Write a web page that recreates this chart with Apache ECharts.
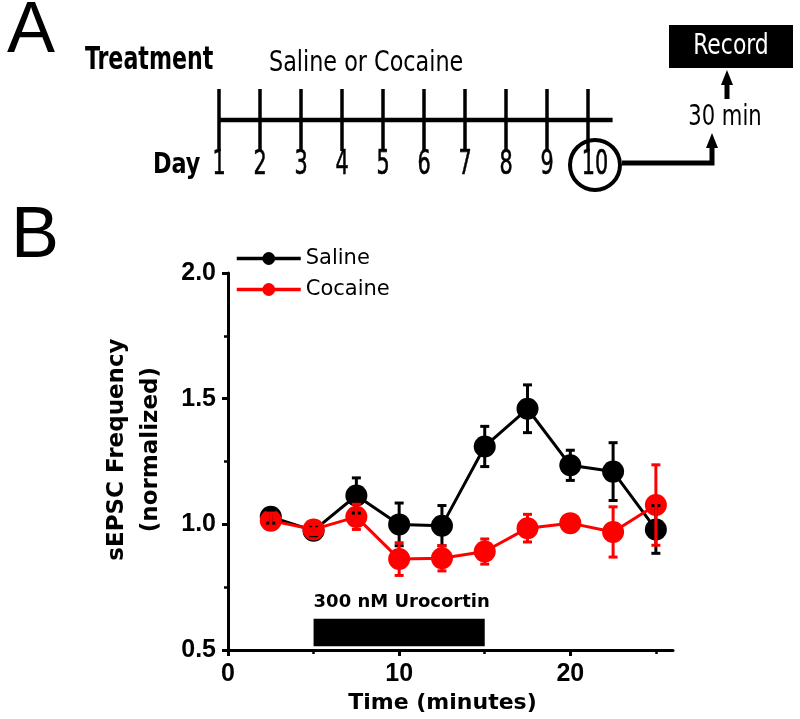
<!DOCTYPE html>
<html><head><meta charset="utf-8">
<script src="https://cdn.jsdelivr.net/npm/echarts@6/dist/echarts.min.js"></script>
<style>html,body{margin:0;padding:0;background:#fff}#c{width:800px;height:719px}</style>
</head><body><div id="c"></div>
<script>
// ---- data ----
const times = [2.5, 5, 7.5, 10, 12.5, 15, 17.5, 20, 22.5, 25];
const salineMean = [1.03, 0.975, 1.115, 1.00, 0.995, 1.31, 1.46, 1.235, 1.21, 0.98];
const salineSem = [0.025, 0.02, 0.07, 0.085, 0.08, 0.08, 0.095, 0.06, 0.115, 0.095];
const cocaineMean = [1.015, 0.98, 1.03, 0.862, 0.865, 0.892, 0.985, 1.005, 0.97, 1.077];
const cocaineSem = [0.03, 0.02, 0.05, 0.065, 0.05, 0.05, 0.055, 0.03, 0.1, 0.16];
const xTickValues = [0, 10, 20];
const xMinorTickValues = [5, 15, 25];
const urocortinPeriod = [5, 15];
const urocortinBand = [0.515, 0.625];
const urocortinLabel = '300 nM Urocortin';
const days = [1, 2, 3, 4, 5, 6, 7, 8, 9, 10];
const recordDay = 10;
const timelineEnd = 10.6;

const COND = "'DejaVu Sans Condensed','DejaVu Sans',sans-serif";
const BOLD = "'DejaVu Sans',sans-serif";
const ARIAL = "'Liberation Sans',sans-serif";
const RED = '#ff0000';

function errRender(color) {
  return function (params, api) {
    const x = api.value(0), m = api.value(1), s = api.value(2);
    const t = api.coord([x, m + s]);
    const b = api.coord([x, m - s]);
    const hw = 4.5;
    const st = { stroke: color, lineWidth: 3 };
    return { type: 'group', children: [
      { type: 'line', shape: { x1: t[0], y1: t[1], x2: b[0], y2: b[1] }, style: st },
      { type: 'line', shape: { x1: t[0] - hw, y1: t[1], x2: t[0] + hw, y2: t[1] }, style: st },
      { type: 'line', shape: { x1: b[0] - hw, y1: b[1], x2: b[0] + hw, y2: b[1] }, style: st }
    ]};
  };
}

function narrowText(text, x, y, size, scale, opts) {
  opts = opts || {};
  return { type: 'text', x: x, y: y, scaleX: scale, scaleY: 1,
    style: { text: text, x: 0, y: 0, align: opts.align || 'left', verticalAlign: 'middle',
      fontFamily: COND, fontWeight: opts.bold ? 'bold' : 'normal', fontSize: size, fill: opts.fill || '#000' } };
}

const chart = echarts.init(document.getElementById('c'), null, { renderer: 'canvas' });
const axisBlack = { color: '#000', width: 3 };
const option = {
  animation: false,
  backgroundColor: '#fff',
  grid: [
    { left: 228, top: 273, width: 445, height: 379 },
    { left: 219, top: 89, width: 41 * (timelineEnd - 1), height: 77.5 }
  ],
  legend: {
    data: ['Saline', 'Cocaine'], orient: 'vertical', left: 235, top: 248, padding: 0,
    itemWidth: 64, itemHeight: 16, itemGap: 10,
    lineStyle: { width: 3.5 },
    textStyle: { fontFamily: "'DejaVu Sans',sans-serif", fontSize: 21, color: '#000' }
  },
  xAxis: [
    { gridIndex: 0, type: 'value', min: 0, max: 26, interval: 10,
      axisLine: { show: true, lineStyle: axisBlack },
      axisTick: { show: true, customValues: xTickValues, length: 6, lineStyle: { color: '#000', width: 3 } },
      axisLabel: { customValues: xTickValues, margin: 12, fontFamily: ARIAL, fontWeight: 'bold', fontSize: 25, color: '#000' },
      splitLine: { show: false },
      name: 'Time (minutes)', nameLocation: 'middle', nameGap: 38,
      nameTextStyle: { fontFamily: BOLD, fontWeight: 'bold', fontSize: 22, color: '#000', padding: [0, 16, 0, 0] } },
    { gridIndex: 0, type: 'value', min: 0, max: 26, position: 'bottom',
      axisLine: { show: false },
      axisTick: { show: true, customValues: xMinorTickValues, length: 4, lineStyle: { color: '#000', width: 2.5 } },
      axisLabel: { show: false }, splitLine: { show: false } },
    { gridIndex: 1, type: 'value', min: 1, max: timelineEnd, show: false }
  ],
  yAxis: [
    { gridIndex: 0, type: 'value', min: 0.5, max: 2.0, interval: 0.5,
      axisLine: { show: true, lineStyle: axisBlack },
      axisTick: { show: true, length: 6, lineStyle: { color: '#000', width: 3 } },
      minorTick: { show: true, splitNumber: 2, length: 4, lineStyle: { color: '#000', width: 2.5 } },
      axisLabel: { formatter: v => v.toFixed(1), margin: 12, fontFamily: ARIAL, fontWeight: 'bold', fontSize: 25, color: '#000' },
      splitLine: { show: false },
      name: 'sEPSC Frequency\n(normalized)', nameLocation: 'middle', nameGap: 60,
      nameTextStyle: { fontFamily: BOLD, fontWeight: 'bold', fontSize: 23, lineHeight: 34, color: '#000', padding: [0, 0, 0, 24] } },
    { gridIndex: 1, type: 'value', min: -1.5, max: 1, show: false }
  ],
  series: [
    { name: 'Saline', type: 'line', xAxisIndex: 0, yAxisIndex: 0, z: 3,
      data: times.map((t, i) => [t, salineMean[i]]),
      symbol: 'circle', symbolSize: 22,
      lineStyle: { color: '#000', width: 3 }, itemStyle: { color: '#000' } },
    { name: 'Cocaine', type: 'line', xAxisIndex: 0, yAxisIndex: 0, z: 4,
      data: times.map((t, i) => [t, cocaineMean[i]]),
      symbol: 'circle', symbolSize: 22,
      lineStyle: { color: RED, width: 3 }, itemStyle: { color: RED } },
    { name: 'SalineErr', type: 'custom', xAxisIndex: 0, yAxisIndex: 0, z: 5,
      data: times.map((t, i) => [t, salineMean[i], salineSem[i]]),
      encode: { x: 0, y: 1 }, renderItem: errRender('#000') },
    { name: 'CocaineErr', type: 'custom', xAxisIndex: 0, yAxisIndex: 0, z: 6,
      data: times.map((t, i) => [t, cocaineMean[i], cocaineSem[i]]),
      encode: { x: 0, y: 1 }, renderItem: errRender(RED) },
    { name: 'Urocortin', type: 'custom', xAxisIndex: 0, yAxisIndex: 0, z: 2,
      data: [[urocortinPeriod[0], urocortinPeriod[1]]],
      encode: { x: [0, 1] },
      renderItem: function (params, api) {
        const p1 = api.coord([api.value(0), urocortinBand[1]]);
        const p2 = api.coord([api.value(1), urocortinBand[0]]);
        return { type: 'group', children: [
          { type: 'rect', shape: { x: p1[0], y: p1[1], width: p2[0] - p1[0], height: p2[1] - p1[1] }, style: { fill: '#000' } },
          { type: 'text', style: { text: urocortinLabel, x: p1[0], y: p1[1] - 16, align: 'left', verticalAlign: 'middle',
              fontFamily: BOLD, fontWeight: 'bold', fontSize: 18, fill: '#000' } }
        ]};
      } },
    { name: 'Timeline', type: 'line', xAxisIndex: 2, yAxisIndex: 1, clip: false, silent: true,
      data: [[days[0], 0], [timelineEnd, 0]], symbol: 'none',
      lineStyle: { color: '#000', width: 4.5 } },
    { name: 'DayTicks', type: 'custom', xAxisIndex: 2, yAxisIndex: 1, clip: false, silent: true,
      data: days.map(d => [d, 0]), encode: { x: 0, y: 1 },
      renderItem: function (params, api) {
        const a = api.coord([api.value(0), 1]);
        const b = api.coord([api.value(0), -1]);
        return { type: 'line', shape: { x1: a[0], y1: a[1], x2: b[0], y2: b[1] }, style: { stroke: '#000', lineWidth: 3.5 } };
      } },
    { name: 'DayLabels', type: 'custom', xAxisIndex: 2, yAxisIndex: 1, clip: false, silent: true,
      data: days.map(d => [d, -1.45]), encode: { x: 0, y: 1 },
      renderItem: function (params, api) {
        const d = api.value(0);
        const p = api.coord([d, api.value(1)]);
        return { type: 'text', x: p[0] + (d === recordDay ? 7 : 0), y: p[1], scaleX: 0.7,
          style: { text: String(d), x: 0, y: 0, align: 'center', verticalAlign: 'middle',
            fontFamily: COND, fontSize: 33, fill: '#000', stroke: '#000', lineWidth: 0.6 } };
      } },
    { name: 'RecordCircle', type: 'scatter', xAxisIndex: 2, yAxisIndex: 1, silent: true, clip: false,
      data: [[recordDay, -1.45]], symbol: 'circle', symbolSize: 50, symbolOffset: [7, 0],
      itemStyle: { color: 'rgba(0,0,0,0)', borderColor: '#000', borderWidth: 4, opacity: 1 } }
  ],
  graphic: [
    { type: 'text', style: { text: 'A', x: 31, y: 32, align: 'center', verticalAlign: 'middle', fontFamily: ARIAL, fontSize: 72, fill: '#000' } },
    { type: 'text', style: { text: 'B', x: 35, y: 237, align: 'center', verticalAlign: 'middle', fontFamily: ARIAL, fontSize: 72, fill: '#000' } },
    narrowText('Treatment', 85, 61, 32, 0.77, { bold: true }),
    narrowText('Saline or Cocaine', 269, 63, 29, 0.855),
    narrowText('Day', 153, 165, 29, 0.855, { bold: true }),
    { type: 'polyline', shape: { points: [[622, 163], [712, 163], [712, 146]] }, style: { stroke: '#000', lineWidth: 5, fill: null } },
    { type: 'polygon', shape: { points: [[706, 148], [718, 148], [712, 133]] }, style: { fill: '#000' } },
    narrowText('30 min', 725, 117, 29, 0.81, { align: 'center' }),
    { type: 'line', shape: { x1: 727, y1: 99, x2: 727, y2: 83 }, style: { stroke: '#000', lineWidth: 5 } },
    { type: 'polygon', shape: { points: [[721, 85], [733, 85], [727, 70]] }, style: { fill: '#000' } },
    { type: 'rect', shape: { x: 669, y: 25, width: 124, height: 43 }, style: { fill: '#000' } },
    narrowText('Record', 731, 47, 28, 0.87, { align: 'center', fill: '#fff' })
  ]
};
chart.setOption(option);
</script>
</body></html>
